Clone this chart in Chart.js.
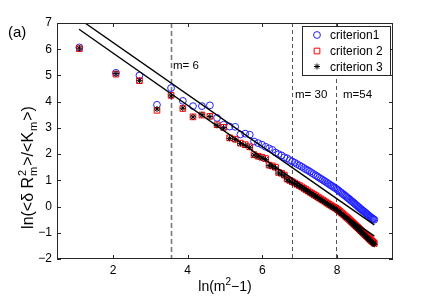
<!DOCTYPE html>
<html>
<head>
<meta charset="utf-8">
<script src="https://cdn.jsdelivr.net/npm/chart.js@4.4.0/dist/chart.umd.min.js"></script>
<style>
  body { margin: 0; background: #fff; }
  canvas { display: block; }
</style>
</head>
<body>
<canvas id="myChart" width="436" height="303"></canvas>
<script>
// x = ln(m^2-1) for m = 2..90
var xLog = [
  1.099, 2.079, 2.708, 3.178, 3.555, 3.871, 4.143, 4.382, 4.595, 4.787,
  4.963, 5.124, 5.273, 5.412, 5.541, 5.663, 5.778, 5.886, 5.989, 6.087,
  6.180, 6.269, 6.354, 6.436, 6.515, 6.590, 6.663, 6.733, 6.801, 6.867,
  6.930, 6.992, 7.052, 7.110, 7.166, 7.221, 7.275, 7.326, 7.377, 7.427,
  7.475, 7.522, 7.568, 7.613, 7.657, 7.700, 7.742, 7.783, 7.824, 7.863,
  7.902, 7.940, 7.978, 8.014, 8.050, 8.086, 8.121, 8.155, 8.188, 8.221,
  8.254, 8.286, 8.318, 8.349, 8.379, 8.409, 8.439, 8.468, 8.497, 8.525,
  8.553, 8.581, 8.608, 8.635, 8.661, 8.687, 8.713, 8.739, 8.764, 8.789,
  8.813, 8.837, 8.862, 8.885, 8.909, 8.932, 8.955, 8.977, 9.000
]
var crit1 = [
  6.07, 5.10, 5.00, 3.88, 4.52, 4.03, 3.83, 3.83, 3.86, 3.38,
  3.12, 3.05, 3.04, 2.75, 2.78, 2.74, 2.48, 2.42, 2.36, 2.28,
  2.22, 2.16, 2.06, 2.00, 1.95, 1.88, 1.84, 1.77, 1.72, 1.67,
  1.62, 1.57, 1.52, 1.47, 1.42, 1.38, 1.33, 1.28, 1.24, 1.19,
  1.15, 1.10, 1.06, 1.02, 0.98, 0.94, 0.90, 0.86, 0.82, 0.79,
  0.75, 0.72, 0.68, 0.64, 0.60, 0.56, 0.52, 0.48, 0.45, 0.41,
  0.37, 0.33, 0.30, 0.26, 0.22, 0.19, 0.15, 0.12, 0.08, 0.05,
  0.01, -0.02, -0.06, -0.09, -0.12, -0.15, -0.18, -0.21, -0.24, -0.27,
  -0.30, -0.33, -0.36, -0.39, -0.41, -0.44, -0.46, -0.48, -0.50
]
var crit2 = [
  6.02, 5.05, 4.80, 3.67, 4.24, 3.74, 3.42, 3.49, 3.44, 3.12,
  3.02, 2.62, 2.57, 2.42, 2.36, 2.28, 1.98, 1.92, 1.88, 1.83,
  1.58, 1.55, 1.50, 1.30, 1.27, 1.20, 1.05, 1.00, 0.95, 0.90,
  0.85, 0.80, 0.75, 0.70, 0.65, 0.60, 0.55, 0.51, 0.46, 0.42,
  0.37, 0.33, 0.29, 0.25, 0.21, 0.17, 0.13, 0.09, 0.06, 0.02,
  -0.01, -0.04, -0.07, -0.11, -0.15, -0.19, -0.24, -0.28, -0.32, -0.36,
  -0.40, -0.44, -0.48, -0.52, -0.56, -0.60, -0.64, -0.68, -0.72, -0.76,
  -0.79, -0.83, -0.87, -0.91, -0.94, -0.98, -1.01, -1.05, -1.08, -1.12,
  -1.15, -1.19, -1.22, -1.25, -1.28, -1.31, -1.34, -1.37, -1.40
]
var crit3 = [
  6.04, 5.07, 4.80, 3.72, 4.22, 3.75, 3.42, 3.50, 3.43, 3.10,
  3.00, 2.60, 2.55, 2.40, 2.34, 2.26, 1.96, 1.90, 1.85, 1.80,
  1.56, 1.52, 1.47, 1.28, 1.24, 1.17, 1.02, 0.97, 0.92, 0.87,
  0.82, 0.77, 0.72, 0.67, 0.62, 0.57, 0.52, 0.48, 0.43, 0.39,
  0.34, 0.30, 0.26, 0.22, 0.18, 0.14, 0.10, 0.06, 0.03, -0.01,
  -0.04, -0.08, -0.11, -0.15, -0.19, -0.23, -0.28, -0.32, -0.36, -0.40,
  -0.44, -0.48, -0.52, -0.56, -0.60, -0.64, -0.68, -0.72, -0.76, -0.80,
  -0.83, -0.87, -0.91, -0.95, -0.98, -1.02, -1.05, -1.09, -1.12, -1.16,
  -1.19, -1.23, -1.26, -1.29, -1.32, -1.35, -1.38, -1.41, -1.44
]
// fitted lines (end points)
var fitUpperX = [1.25, 9.0], fitUpperY = [7.0, -0.70]
var fitLowerX = [1.09, 9.0], fitLowerY = [6.76, -1.13]
// vertical markers
var markerX = [3.555, 6.801, 7.978]
var markerLabels = ['m= 6', 'm= 30', 'm=54']
var xTicks = [2, 4, 6, 8]
var yTicks = [-2, -1, 0, 1, 2, 3, 4, 5, 6, 7]
var seriesNames = ['criterion1', 'criterion 2', 'criterion 3']

const FONT = '"Liberation Sans", Arial, Helvetica, sans-serif'

function pts(xs, ys) {
  return xs.map((x, i) => ({ x: x, y: ys[i] }))
}

const framePlugin = {
  id: 'frame',
  beforeDatasetsDraw(chart) {
    const ctx = chart.ctx, a = chart.chartArea, sx = chart.scales.x
    ctx.save()
    markerX.forEach((v, i) => {
      const px = Math.round(sx.getPixelForValue(v)) + 0.5
      ctx.strokeStyle = i == 0 ? '#7a7a7a' : '#555'
      ctx.lineWidth = i == 0 ? 1.6 : 1
      ctx.setLineDash(i == 0 ? [5, 3] : [4, 3])
      ctx.beginPath()
      ctx.moveTo(px, a.top)
      ctx.lineTo(px, a.bottom)
      ctx.stroke()
    })
    ctx.setLineDash([])
    ctx.fillStyle = '#000'
    ctx.font = '11.5px ' + FONT
    ctx.textBaseline = 'alphabetic'
    ctx.fillText(markerLabels[0], 173, 69)
    ctx.fillText(markerLabels[1], 295, 98)
    ctx.fillText(markerLabels[2], 343, 98)
    ctx.restore()
  },
  afterDatasetsDraw(chart) {
    const ctx = chart.ctx, a = chart.chartArea
    const sx = chart.scales.x, sy = chart.scales.y
    ctx.save()
    ctx.strokeStyle = '#262626'
    ctx.lineWidth = 1
    ctx.strokeRect(a.left + 0.5, a.top + 0.5, a.right - a.left - 1, a.bottom - a.top - 1)
    ctx.beginPath()
    xTicks.forEach(v => {
      const px = Math.round(sx.getPixelForValue(v)) + 0.5
      ctx.moveTo(px, a.bottom); ctx.lineTo(px, a.bottom - 4)
      ctx.moveTo(px, a.top); ctx.lineTo(px, a.top + 4)
    })
    yTicks.forEach(v => {
      const py = Math.round(sy.getPixelForValue(v)) + 0.5
      ctx.moveTo(a.left, py); ctx.lineTo(a.left + 4, py)
      ctx.moveTo(a.right, py); ctx.lineTo(a.right - 4, py)
    })
    ctx.stroke()
    ctx.restore()
  },
  afterDraw(chart) {
    const ctx = chart.ctx
    ctx.save()
    // legend box
    ctx.fillStyle = '#fff'
    ctx.fillRect(302, 26, 89, 50)
    ctx.strokeStyle = '#262626'
    ctx.lineWidth = 1
    ctx.strokeRect(302.5, 26.5, 88, 49)
    const rows = [35, 51, 66.5]
    chart.data.datasets.slice(0, 3).forEach((ds, i) => {
      ctx.strokeStyle = ds.borderColor
      ctx.fillStyle = 'rgba(0,0,0,0)'
      ctx.lineWidth = 1
      Chart.helpers.drawPoint(ctx, { pointStyle: ds.pointStyle, radius: ds.pointRadius, borderWidth: 1 }, 317, rows[i])
      ctx.fillStyle = '#000'
      ctx.font = '12px ' + FONT
      ctx.textBaseline = 'middle'
      ctx.fillText(seriesNames[i], 330, rows[i] + 1)
    })
    // panel label
    ctx.fillStyle = '#000'
    ctx.font = '15px ' + FONT
    ctx.textBaseline = 'middle'
    ctx.fillText('(a)', 8, 33)
    // x title
    ctx.textBaseline = 'alphabetic'
    const xParts = [['ln(m', 14, 0], ['2', 10, -6], ['\u22121)', 14, 0]]
    let w = 0
    xParts.forEach(p => { ctx.font = p[1] + 'px ' + FONT; w += ctx.measureText(p[0]).width })
    let cx = 225 - w / 2
    xParts.forEach(p => {
      ctx.font = p[1] + 'px ' + FONT
      ctx.fillText(p[0], cx, 291 + p[2])
      cx += ctx.measureText(p[0]).width
    })
    // y title (rotated)
    ctx.translate(33, 167)
    ctx.rotate(-Math.PI / 2)
    const yParts = [
      ['ln(<\u03b4 R', 16, 0, null],
      ['2', 11, -7, 'm'],
      ['>/<K', 16, 0, null],
      ['m', 11, 4, null],
      ['>)', 16, 0, null]
    ]
    let tw = 0
    yParts.forEach(p => {
      ctx.font = p[1] + 'px ' + FONT
      let ww = ctx.measureText(p[0]).width
      if (p[3]) ww = Math.max(ww, ctx.measureText(p[3]).width)
      tw += ww + 1
    })
    let tx = -tw / 2
    yParts.forEach(p => {
      ctx.font = p[1] + 'px ' + FONT
      ctx.fillText(p[0], tx, p[2])
      let ww = ctx.measureText(p[0]).width
      if (p[3]) {
        ctx.fillText(p[3], tx, 4)
        ww = Math.max(ww, ctx.measureText(p[3]).width)
      }
      tx += ww + 1
    })
    ctx.restore()
  }
}

const ctx = document.getElementById('myChart').getContext('2d')

const chart = new Chart(ctx, {
  type: 'scatter',
  data: {
    datasets: [
      {
        label: seriesNames[0],
        data: pts(xLog, crit1),
        pointStyle: 'circle',
        pointRadius: 3.4,
        borderColor: '#1f1fff',
        backgroundColor: 'rgba(0,0,0,0)',
        borderWidth: 1,
        order: 3
      },
      {
        label: seriesNames[1],
        data: pts(xLog, crit2),
        pointStyle: 'rect',
        pointRadius: 4,
        borderColor: '#ff0000',
        backgroundColor: 'rgba(0,0,0,0)',
        borderWidth: 1,
        order: 2
      },
      {
        label: seriesNames[2],
        data: pts(xLog, crit3),
        pointStyle: 'star',
        pointRadius: 3,
        borderColor: '#000000',
        backgroundColor: 'rgba(0,0,0,0)',
        borderWidth: 1,
        order: 1
      },
      {
        type: 'line',
        label: 'fit1',
        data: pts(fitUpperX, fitUpperY),
        borderColor: '#000',
        borderWidth: 1.4,
        pointRadius: 0,
        showLine: true,
        order: 0
      },
      {
        type: 'line',
        label: 'fit2',
        data: pts(fitLowerX, fitLowerY),
        borderColor: '#000',
        borderWidth: 1.4,
        pointRadius: 0,
        showLine: true,
        order: 0
      }
    ]
  },
  options: {
    responsive: false,
    animation: false,
    events: [],
    layout: { padding: { left: 0, right: 43, top: 23, bottom: 0 } },
    plugins: { legend: { display: false }, tooltip: { enabled: false } },
    scales: {
      x: {
        type: 'linear',
        min: 0.5,
        max: 9.5,
        grid: { display: false, drawTicks: false },
        border: { display: false },
        ticks: {
          color: '#000',
          font: { family: FONT, size: 12 },
          padding: 4,
          autoSkip: false,
          maxRotation: 0
        },
        afterBuildTicks: s => { s.ticks = xTicks.map(v => ({ value: v })) },
        afterFit: s => { s.height = 44 }
      },
      y: {
        min: -2,
        max: 7,
        grid: { display: false, drawTicks: false },
        border: { display: false },
        ticks: {
          color: '#000',
          font: { family: FONT, size: 12 },
          padding: 5,
          autoSkip: false,
          callback: v => (v < 0 ? '\u2212' + Math.abs(v) : '' + v)
        },
        afterBuildTicks: s => { s.ticks = yTicks.map(v => ({ value: v })) },
        afterFit: s => { s.width = 57 }
      }
    }
  },
  plugins: [framePlugin]
})
</script>
</body>
</html>
